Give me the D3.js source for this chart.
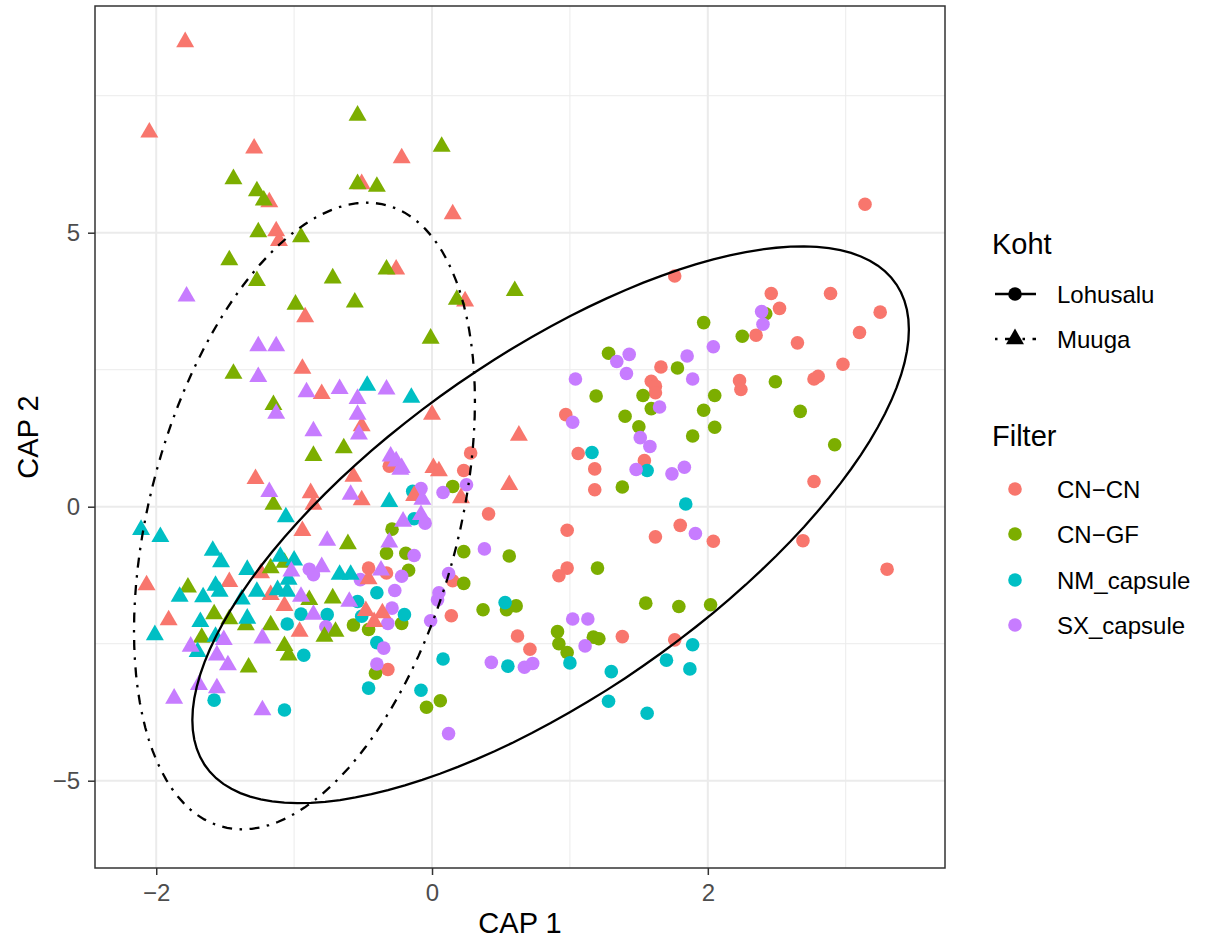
<!doctype html>
<html>
<head>
  <meta charset="utf-8">
  <title>CAP ordination by Koht and Filter</title>
  <script src="https://cdn.jsdelivr.net/npm/d3@7"></script>
  <style>
    body { margin: 0; background: #fff; }
    text { font-family: "Liberation Sans", Arial, Helvetica, sans-serif; }
    .axis .tick text { fill: #4d4d4d; font-size: 24px; }
    .axis .tick line { stroke: #333; stroke-width: 1.5; }
  </style>
</head>
<body>
<div id="chart"></div>
<script>
// categories
var sites = ["Lohusalu", "Muuga"];
var filters = ["CN-CN", "CN-GF", "NM_capsule", "SX_capsule"];
var filterColors = ["#F8766D", "#7CAE00", "#00BFC4", "#C77CFF"];

// tick values and labels
var xMajor = [-2, 0, 2], xMinor = [-1, 1, 3];
var yMajor = [-5, 0, 5], yMinor = [-2.5, 2.5, 7.5];
var xTickLabels = ["\u22122", "0", "2"];
var yTickLabels = ["\u22125", "0", "5"];

// CAP1, CAP2 scores
var lohusaluCNCN = [[3.14,5.52],[1.76,4.21],[2.46,3.89],[2.89,3.89],[2.52,3.62],[3.25,3.55],[2.35,3.13],[3.10,3.18],[2.65,2.99],[1.66,2.55],[2.98,2.60],[2.77,2.33],[2.80,2.38],[2.23,2.30],[2.24,2.14],[1.59,2.29],[1.62,2.20],[1.62,2.08],[0.97,1.68],[1.06,0.97],[1.18,0.69],[1.18,0.31],[1.54,0.84],[0.98,-0.43],[1.62,-0.55],[1.80,-0.34],[2.04,-0.63],[0.98,-1.12],[0.92,-1.26],[2.69,-0.62],[3.30,-1.14],[2.77,0.46],[1.76,-2.43],[0.28,0.98],[0.23,0.66],[-0.31,0.74],[0.41,-0.13],[0.15,-1.35],[0.14,-1.99],[0.62,-2.36],[0.71,-2.60],[1.38,-2.37],[-0.46,-1.12],[-0.33,-1.21],[-0.32,-2.97]];
var lohusaluCNGF = [[2.42,3.52],[1.97,3.36],[2.25,3.11],[1.78,2.53],[2.49,2.28],[2.05,2.03],[1.97,1.76],[2.67,1.74],[2.05,1.45],[1.89,1.29],[2.92,1.13],[1.28,2.80],[1.19,2.02],[1.53,2.03],[1.59,1.79],[1.40,1.65],[1.50,1.46],[1.38,0.36],[1.20,-1.12],[0.15,0.37],[0.23,-0.82],[0.56,-0.90],[-0.19,-0.85],[-0.17,-1.16],[0.23,-1.40],[0.37,-1.88],[0.54,-1.88],[0.61,-1.81],[-0.22,-2.13],[0.91,-2.28],[0.92,-2.50],[0.98,-2.66],[1.17,-2.38],[1.21,-2.41],[1.55,-1.76],[1.79,-1.82],[2.02,-1.79],[0.06,-3.54],[-0.04,-3.66],[-0.29,-0.41],[-0.33,-0.85],[-0.57,-2.16],[-0.46,-2.24],[-0.41,-3.04]];
var lohusaluNM = [[1.16,0.99],[1.56,0.66],[1.84,0.05],[-0.14,0.28],[-0.13,-0.22],[0.53,-1.75],[-0.20,-1.97],[1.00,-2.85],[1.30,-3.01],[1.28,-3.55],[1.56,-3.77],[0.55,-2.91],[0.08,-2.78],[-0.08,-3.35],[1.89,-2.52],[1.70,-2.80],[1.87,-2.96],[-1.05,-2.14],[-1.58,-3.53],[-1.07,-3.71],[-0.40,-1.57],[-0.95,-1.96],[-0.76,-1.97],[-0.54,-1.73],[-0.51,-2.00],[-0.93,-2.71],[-0.40,-2.48],[-0.46,-3.31]];
var lohusaluSX = [[2.39,3.56],[2.40,3.33],[2.04,2.92],[1.85,2.75],[1.89,2.33],[1.65,1.82],[1.34,2.65],[1.43,2.78],[1.41,2.43],[1.04,2.33],[1.02,1.54],[1.51,1.26],[1.58,1.10],[1.48,0.68],[1.74,0.60],[1.83,0.72],[1.91,-0.49],[0.25,0.40],[0.08,0.26],[-0.08,0.33],[-0.05,-0.30],[0.38,-0.77],[-0.13,-0.89],[-0.22,-1.27],[0.12,-1.22],[0.05,-1.57],[0.04,-1.70],[-0.01,-2.08],[1.02,-2.05],[1.13,-2.05],[1.11,-2.54],[0.43,-2.84],[0.67,-2.93],[0.73,-2.86],[0.12,-4.14],[-0.89,-1.14],[-0.86,-1.24],[-0.52,-1.33],[-0.27,-1.53],[-0.29,-1.85],[-0.32,-2.13],[-0.77,-2.19],[-0.35,-2.58],[-0.40,-2.87]];

var muugaCNCN = [[-1.79,8.48],[-2.05,6.83],[-1.29,6.54],[-1.18,5.56],[-0.51,5.89],[-1.13,5.03],[-1.11,4.85],[-0.26,4.33],[-0.22,6.36],[0.15,5.34],[0.24,3.75],[0.63,1.30],[0.01,0.71],[0.05,0.65],[0.21,0.16],[0.56,0.40],[-0.13,0.20],[-1.28,0.51],[-0.94,2.52],[-0.92,3.46],[-0.80,2.06],[-0.51,1.47],[0.00,1.68],[-0.57,0.55],[-0.88,0.25],[-0.86,0.04],[-0.51,0.12],[-0.94,-0.44],[-2.07,-1.43],[-1.47,-1.37],[-1.24,-1.21],[-1.17,-1.61],[-1.07,-1.81],[-1.91,-2.07],[-0.46,-1.32],[-0.48,-1.90],[-0.36,-1.94],[-0.42,-2.10],[-0.96,-2.28]];
var muugaCNGF = [[-0.54,7.14],[-1.44,5.98],[-1.27,5.76],[-1.22,5.59],[-0.54,5.89],[-0.40,5.84],[-1.26,5.01],[-0.95,4.92],[-1.47,4.50],[-1.27,4.12],[-0.72,4.17],[-0.33,4.33],[-0.99,3.69],[-0.56,3.73],[0.07,6.57],[0.60,3.94],[0.18,3.78],[-0.01,3.07],[-1.44,2.43],[-1.15,1.86],[-1.15,0.04],[-0.86,0.93],[-0.64,1.07],[-0.61,-0.68],[-1.77,-1.47],[-1.17,-1.12],[-1.07,-1.02],[-1.58,-1.96],[-1.47,-2.05],[-1.35,-2.16],[-1.17,-2.16],[-1.67,-2.39],[-1.07,-2.54],[-1.04,-2.71],[-1.33,-2.93],[-0.89,-1.70],[-0.72,-1.67],[-0.70,-2.28],[-0.78,-2.37]];
var muugaNM = [[-0.47,2.21],[-0.15,1.99],[-0.31,0.09],[-1.06,-0.19],[-2.11,-0.42],[-1.97,-0.55],[-1.59,-0.80],[-1.53,-1.01],[-1.83,-1.64],[-1.66,-1.65],[-1.57,-1.44],[-1.54,-1.55],[-1.34,-1.15],[-1.10,-0.91],[-1.04,-1.33],[-1.38,-1.69],[-1.27,-1.55],[-1.12,-1.52],[-1.68,-2.10],[-1.34,-2.04],[-2.01,-2.34],[-1.57,-2.37],[-1.70,-2.65],[-1.00,-0.98],[-0.67,-1.24],[-0.59,-1.24],[-1.05,-1.55]];
var muugaSX = [[-1.78,3.84],[-1.26,2.93],[-1.13,2.93],[-1.26,2.37],[-1.13,1.70],[-1.18,0.27],[-0.91,2.09],[-0.67,2.15],[-0.33,2.14],[-0.54,1.97],[-0.54,1.68],[-0.53,1.32],[-0.86,1.38],[-0.30,0.92],[-0.26,0.83],[-0.23,0.68],[-0.59,0.22],[-0.22,0.71],[-0.07,0.13],[-0.08,-0.15],[-0.21,-0.27],[-0.76,-0.62],[-0.31,-0.65],[-1.02,-1.18],[-1.51,-2.43],[-1.75,-2.55],[-1.56,-2.71],[-1.23,-2.40],[-1.48,-2.89],[-1.69,-3.25],[-1.56,-3.31],[-1.87,-3.50],[-1.23,-3.71],[-0.80,-1.10],[-0.37,-1.16],[-0.95,-1.64],[-0.86,-1.97],[-0.60,-1.73]];

// 95% ellipse per Koht: centre and scaled covariance [sxx, sxy, syy]
var ellipseCenters = [[0.86, -0.33], [-0.925, -0.17]];
var ellipseCov = [[6.75, 9.26, 25.8], [1.528, 2.59, 32.7]];

var W = 1207, H = 940;
var panel = {left: 95, right: 945, top: 6, bottom: 868};

var svg = d3.select("#chart").append("svg")
  .attr("width", W).attr("height", H);

var x = d3.scaleLinear().domain([-2.444, 3.72]).range([panel.left, panel.right]);
var y = d3.scaleLinear().domain([-6.593, 9.137]).range([panel.bottom, panel.top]);

var color = d3.scaleOrdinal().domain(filters).range(filterColors);

// grid
var grid = svg.append("g");
grid.selectAll(".vminor").data(xMinor).enter().append("line")
  .attr("x1", d => x(d)).attr("x2", d => x(d))
  .attr("y1", panel.top).attr("y2", panel.bottom)
  .attr("stroke", "#ebebeb").attr("stroke-width", 1);
grid.selectAll(".hminor").data(yMinor).enter().append("line")
  .attr("y1", d => y(d)).attr("y2", d => y(d))
  .attr("x1", panel.left).attr("x2", panel.right)
  .attr("stroke", "#ebebeb").attr("stroke-width", 1);
grid.selectAll(".vmajor").data(xMajor).enter().append("line")
  .attr("x1", d => x(d)).attr("x2", d => x(d))
  .attr("y1", panel.top).attr("y2", panel.bottom)
  .attr("stroke", "#ebebeb").attr("stroke-width", 2);
grid.selectAll(".hmajor").data(yMajor).enter().append("line")
  .attr("y1", d => y(d)).attr("y2", d => y(d))
  .attr("x1", panel.left).attr("x2", panel.right)
  .attr("stroke", "#ebebeb").attr("stroke-width", 2);

// points
var groups = [
  {site: "Lohusalu", filter: "CN-CN", values: lohusaluCNCN},
  {site: "Lohusalu", filter: "CN-GF", values: lohusaluCNGF},
  {site: "Lohusalu", filter: "NM_capsule", values: lohusaluNM},
  {site: "Lohusalu", filter: "SX_capsule", values: lohusaluSX},
  {site: "Muuga", filter: "CN-CN", values: muugaCNCN},
  {site: "Muuga", filter: "CN-GF", values: muugaCNGF},
  {site: "Muuga", filter: "NM_capsule", values: muugaNM},
  {site: "Muuga", filter: "SX_capsule", values: muugaSX}
];
var points = [];
groups.forEach(function(g) {
  g.values.forEach(function(v) {
    points.push({site: g.site, filter: g.filter, cap1: v[0], cap2: v[1]});
  });
});

var triangle = d3.symbol().type(d3.symbolTriangle).size(140);

svg.append("g").selectAll("circle")
  .data(points.filter(d => d.site == "Lohusalu"))
  .enter().append("circle")
    .attr("cx", d => x(d.cap1))
    .attr("cy", d => y(d.cap2))
    .attr("r", 6.8)
    .attr("fill", d => color(d.filter));

svg.append("g").selectAll("path")
  .data(points.filter(d => d.site == "Muuga"))
  .enter().append("path")
    .attr("d", triangle)
    .attr("transform", d => "translate(" + x(d.cap1) + "," + y(d.cap2) + ")")
    .attr("fill", d => color(d.filter));

// ellipses
function ellipsePoints(c, m) {
  var l11 = Math.sqrt(m[0]), l21 = m[1] / l11, l22 = Math.sqrt(m[2] - l21 * l21);
  return d3.range(0, 121).map(function(i) {
    var t = 2 * Math.PI * i / 120;
    return [c[0] + l11 * Math.cos(t), c[1] + l21 * Math.cos(t) + l22 * Math.sin(t)];
  });
}
var line = d3.line().x(d => x(d[0])).y(d => y(d[1]));
var dashes = [null, "2.5,7.5,10,7.5"];
sites.forEach(function(s, i) {
  svg.append("path")
    .attr("d", line(ellipsePoints(ellipseCenters[i], ellipseCov[i])))
    .attr("fill", "none")
    .attr("stroke", "#000")
    .attr("stroke-width", 2.3)
    .attr("stroke-dasharray", dashes[i]);
});

// panel border
svg.append("rect")
  .attr("x", panel.left).attr("y", panel.top)
  .attr("width", panel.right - panel.left).attr("height", panel.bottom - panel.top)
  .attr("fill", "none").attr("stroke", "#333").attr("stroke-width", 1.5);

// axes
svg.append("g").attr("class", "axis")
  .attr("transform", "translate(0," + panel.bottom + ")")
  .call(d3.axisBottom(x).tickValues(xMajor).tickSize(7).tickPadding(9)
    .tickFormat((d, i) => xTickLabels[i]))
  .call(g => g.select(".domain").remove());

svg.append("g").attr("class", "axis")
  .attr("transform", "translate(" + panel.left + ",0)")
  .call(d3.axisLeft(y).tickValues(yMajor).tickSize(7).tickPadding(8)
    .tickFormat((d, i) => yTickLabels[i]))
  .call(g => g.select(".domain").remove());

svg.selectAll(".axis .tick text").attr("font-family", null);

// axis titles
svg.append("text")
  .attr("x", (panel.left + panel.right) / 2).attr("y", 933)
  .attr("text-anchor", "middle").style("font-size", "29px").attr("fill", "#000")
  .text("CAP 1");
svg.append("text")
  .attr("transform", "translate(38," + (panel.top + panel.bottom) / 2 + ") rotate(-90)")
  .attr("text-anchor", "middle").style("font-size", "29px").attr("fill", "#000")
  .text("CAP 2");

// legend: Koht
var legend = svg.append("g");
legend.append("text").attr("x", 992).attr("y", 254)
  .style("font-size", "29px").text("Koht");
var kohtY = [294, 339];
sites.forEach(function(s, i) {
  legend.append("line")
    .attr("x1", 995).attr("x2", 1036).attr("y1", kohtY[i]).attr("y2", kohtY[i])
    .attr("stroke", "#000").attr("stroke-width", 2.3)
    .attr("stroke-dasharray", dashes[i]);
  if (i == 0) {
    legend.append("circle").attr("cx", 1015).attr("cy", kohtY[i]).attr("r", 6.8).attr("fill", "#000");
  } else {
    legend.append("path").attr("d", triangle)
      .attr("transform", "translate(1015," + kohtY[i] + ")").attr("fill", "#000");
  }
  legend.append("text").attr("x", 1057).attr("y", kohtY[i]).attr("dy", "0.36em")
    .style("font-size", "24px").text(s);
});

// legend: Filter
legend.append("text").attr("x", 992).attr("y", 446)
  .style("font-size", "29px").text("Filter");
var filterY = [489, 534, 580, 625];
filters.forEach(function(f, i) {
  legend.append("circle").attr("cx", 1015).attr("cy", filterY[i]).attr("r", 6.8)
    .attr("fill", color(f));
  legend.append("text").attr("x", 1057).attr("y", filterY[i]).attr("dy", "0.36em")
    .style("font-size", "24px").text(f.replace("-", "\u2212"));
});
</script>
</body>
</html>
